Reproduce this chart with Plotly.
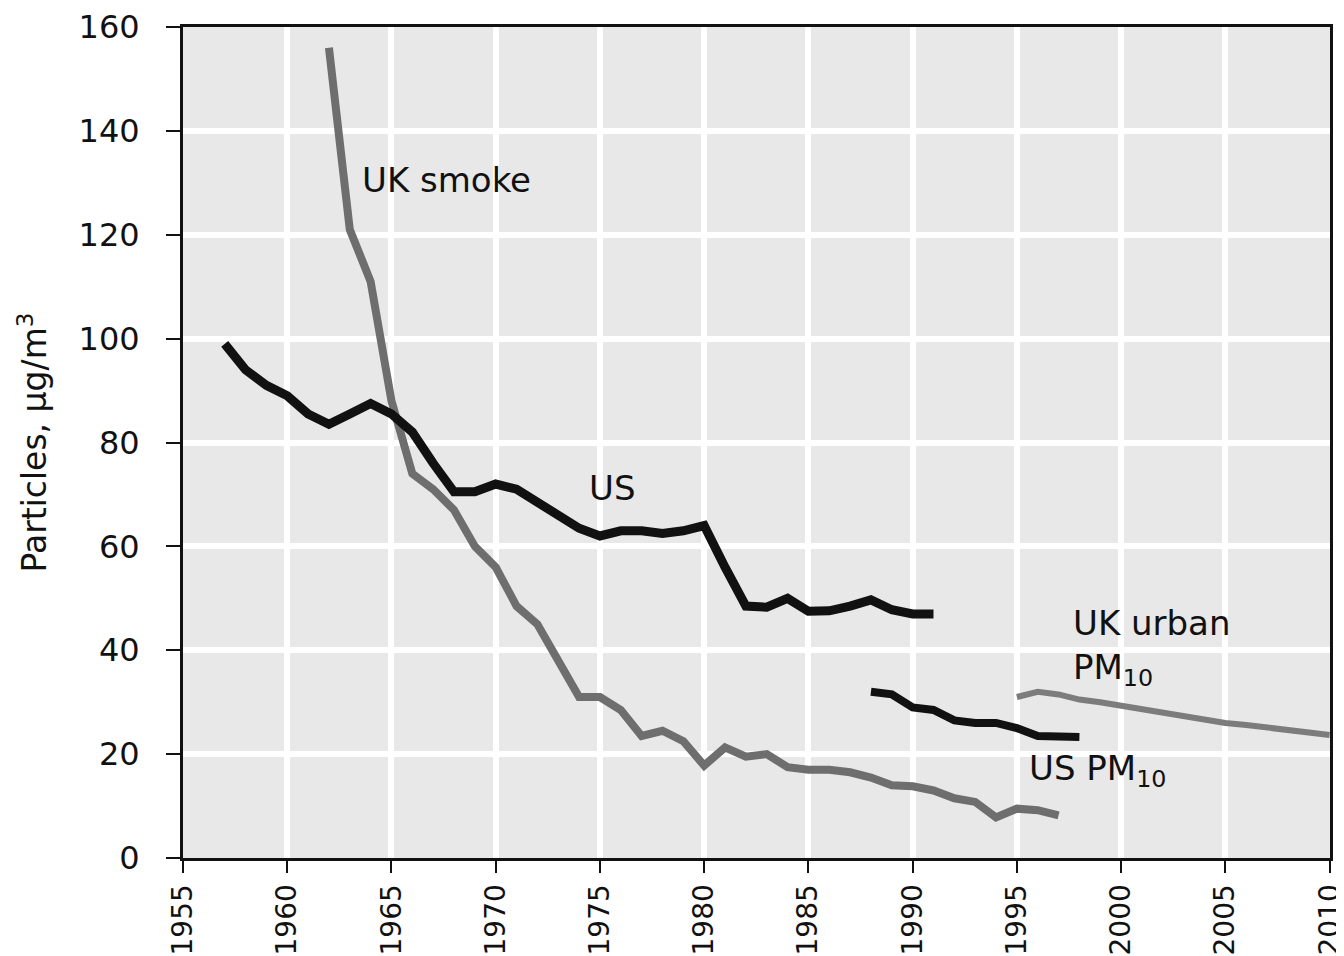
import plotly.graph_objects as go

# ---- data ----
us_years = list(range(1957, 1992))
us_values = [99, 94, 91, 89, 85.5, 83.5, 85.5, 87.5, 85.5, 82, 76, 70.5, 70.5, 72, 71,
             68.5, 66.5, 63.5, 62, 63, 63, 62.5, 63, 64, 56, 48.5, 48.3, 50, 47.5, 47.6,
             48.5, 49.7, 47.8, 47, 47]

uk_smoke_years = list(range(1962, 1998))
uk_smoke_values = [156, 121, 111, 88, 74, 71, 67, 60, 56, 48.5, 45, 38, 31, 31, 28.5,
                   23.5, 24.5, 22.5, 17.8, 21.3, 19.5, 20, 17.5, 17, 17, 16.5, 15.5, 14,
                   13.8, 13, 11.5, 10.8, 7.8, 9.5, 9.2, 8.2]

us_pm10_years = list(range(1988, 1999))
us_pm10_values = [32, 31.5, 29, 28.5, 26.5, 26, 26, 25, 23.5, 23.5, 23.3]

uk_pm10_years = list(range(1995, 2011))
uk_pm10_values = [31, 32, 31.5, 30.5, 30, 29.3, 28.6, 28, 27.3, 26.6, 26, 25.6, 25.1,
                  24.6, 24.2, 23.7]

x_ticks = list(range(1955, 2011, 5))
y_ticks = list(range(0, 161, 20))

labels = [
    ("UK smoke", 1963.5, 130.5),
    ("US", 1974.4, 71.2),
    ("UK urban<br>PM<sub>10</sub>", 1997.6, 40.5),
    ("US PM<sub>10</sub>", 1995.5, 16.9),
]

FONT = "DejaVu Sans"
BLACK = "#111111"
GRAY = "#6e6e6e"
GRAY2 = "#7c7c7c"

fig = go.Figure()
fig.add_trace(go.Scatter(x=uk_smoke_years, y=uk_smoke_values, mode="lines",
                         line=dict(color=GRAY, width=8), name="UK smoke"))
fig.add_trace(go.Scatter(x=us_years, y=us_values, mode="lines",
                         line=dict(color=BLACK, width=9), name="US"))
fig.add_trace(go.Scatter(x=us_pm10_years, y=us_pm10_values, mode="lines",
                         line=dict(color=BLACK, width=8), name="US PM10"))
fig.add_trace(go.Scatter(x=uk_pm10_years, y=uk_pm10_values, mode="lines",
                         line=dict(color=GRAY2, width=6), name="UK urban PM10"))

for text, x, y in labels:
    fig.add_annotation(x=x, y=y, text=text, showarrow=False, xanchor="left",
                       yanchor="middle", align="left",
                       font=dict(family=FONT, size=34, color=BLACK))

fig.update_layout(
    width=1336, height=948,
    margin=dict(l=175, r=14, t=19, b=98),
    paper_bgcolor="white",
    plot_bgcolor="#e8e8e8",
    showlegend=False,
    font=dict(family=FONT, color=BLACK),
)
fig.update_xaxes(
    range=[1955, 2010.02], tickvals=x_ticks, ticktext=[str(t) for t in x_ticks],
    tickangle=-90, tickfont=dict(family=FONT, size=28, color=BLACK),
    ticks="outside", ticklen=12, tickwidth=2, tickcolor=BLACK,
    ticklabeloverflow="allow",
    showline=True, linecolor=BLACK, linewidth=3, mirror=True,
    showgrid=True, gridcolor="white", gridwidth=6, zeroline=False,
    automargin=False,
)
fig.update_yaxes(
    range=[0, 160], tickvals=y_ticks,
    tickfont=dict(family=FONT, size=32, color=BLACK),
    ticks="outside", ticklen=14, tickwidth=2, tickcolor=BLACK,
    ticklabelstandoff=20,
    showline=True, linecolor=BLACK, linewidth=3, mirror=True,
    showgrid=True, gridcolor="white", gridwidth=6, zeroline=False,
    automargin=False,
    title=dict(text="Particles, µg/m<sup>3</sup>", font=dict(family=FONT, size=33, color=BLACK),
               standoff=22),
)

fig.write_html("out.html")
